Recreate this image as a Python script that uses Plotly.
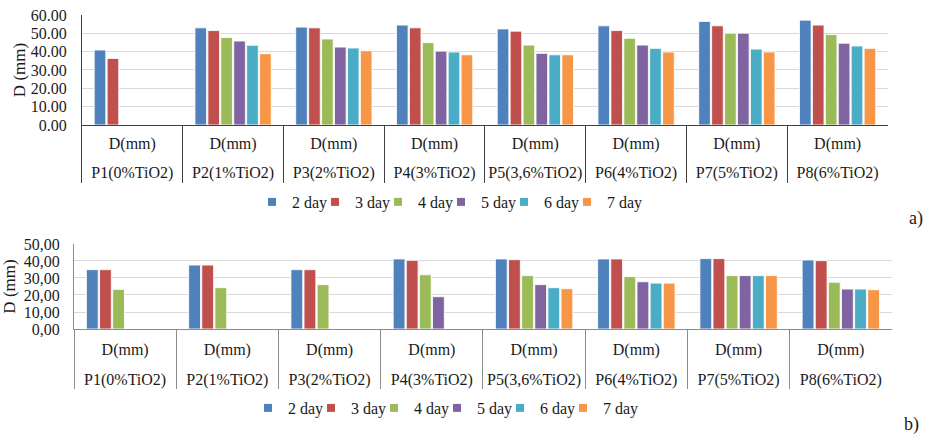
import plotly.graph_objects as go

groups = ["P1(0%TiO2)", "P2(1%TiO2)", "P3(2%TiO2)", "P4(3%TiO2)",
          "P5(3,6%TiO2)", "P6(4%TiO2)", "P7(5%TiO2)", "P8(6%TiO2)"]
measure = ["D(mm)"] * 8
days = ["2 day", "3 day", "4 day", "5 day", "6 day", "7 day"]
colors = ["#4F81BD", "#C0504D", "#9BBB59", "#8064A2", "#4BACC6", "#F79646"]

# chart a)
a_2day = [40.9, 53.0, 53.4, 54.5, 52.4, 54.1, 56.5, 57.2]
a_3day = [36.3, 51.5, 53.0, 53.0, 51.2, 51.5, 54.1, 54.5]
a_4day = [None, 47.7, 46.9, 44.9, 43.6, 47.3, 50.1, 49.3]
a_5day = [None, 45.8, 42.5, 40.3, 39.1, 43.6, 50.1, 44.6]
a_6day = [None, 43.5, 42.0, 39.8, 38.3, 41.8, 41.4, 43.1]
a_7day = [None, 38.9, 40.5, 38.3, 38.3, 39.8, 39.8, 41.8]

# chart b)
b_2day = [34.9, 37.6, 34.9, 41.2, 41.2, 41.2, 41.4, 40.6]
b_3day = [34.9, 37.6, 34.9, 40.4, 40.8, 41.2, 41.4, 40.2]
b_4day = [23.3, 24.3, 26.1, 31.9, 31.4, 30.8, 31.4, 27.5]
b_5day = [None, None, None, 19.0, 26.1, 27.8, 31.4, 23.5]
b_6day = [None, None, None, None, 24.3, 27.0, 31.4, 23.5]
b_7day = [None, None, None, None, 23.7, 27.0, 31.4, 23.1]

a_tickvals = [0, 10, 20, 30, 40, 50, 60]
a_ticktext = ["0.00", "10.00", "20.00", "30.00", "40.00", "50.00", "60.00"]
b_tickvals = [0, 10, 20, 30, 40, 50]
b_ticktext = ["0,00", "10,00", "20,00", "30,00", "40,00", "50,00"]

series_a = [a_2day, a_3day, a_4day, a_5day, a_6day, a_7day]
series_b = [b_2day, b_3day, b_4day, b_5day, b_6day, b_7day]

FONT = "'Liberation Serif', 'Times New Roman', Times, serif"
TXT = "#1a1a1a"
AXC_A = "#404040"
AXC_B = "#8C8C8C"

fig = go.Figure()

for name, col, ya, yb in zip(days, colors, series_a, series_b):
    fig.add_trace(go.Bar(x=groups, y=ya, name=name, marker_color=col,
                         marker_line=dict(color="rgba(255,255,255,0.85)", width=1),
                         xaxis="x", yaxis="y", showlegend=False))
    fig.add_trace(go.Bar(x=groups, y=yb, name=name, marker_color=col,
                         marker_line=dict(color="rgba(255,255,255,0.85)", width=1),
                         xaxis="x2", yaxis="y2", showlegend=False))

# legend entries (placed on the label axes, no visible points)
for i, (name, col) in enumerate(zip(days, colors)):
    for lg, xa, ya in (("legend", "x3", "y"), ("legend2", "x4", "y2")):
        extra = {"legendwidth": 45} if i == len(days) - 1 else {}
        fig.add_trace(go.Scatter(x=groups, y=[None] * len(groups), name=name,
                                 mode="markers",
                                 marker=dict(symbol="square", size=8, color=col),
                                 xaxis=xa, yaxis=ya, legend=lg, showlegend=True,
                                 **extra))

RANGE_X = [-0.5, len(groups) - 0.5]

def inner_axis(domain, anchor, standoff, divlen, axc):
    return dict(domain=domain, anchor=anchor, type="category",
                categoryorder="array", categoryarray=groups, range=RANGE_X,
                tickvals=groups, ticktext=measure,
                showline=True, linecolor=axc, linewidth=1,
                ticks="outside", tickson="boundaries", ticklen=divlen,
                tickcolor=axc, tickwidth=1, ticklabelstandoff=standoff,
                tickfont=dict(family=FONT, size=16, color=TXT),
                showgrid=False, automargin=False, fixedrange=True)

def outer_axis(over, anchor, standoff):
    return dict(overlaying=over, anchor=anchor, type="category",
                categoryorder="array", categoryarray=groups, range=RANGE_X,
                tickvals=groups, ticktext=groups, side="bottom",
                showline=False, ticks="", ticklabelstandoff=standoff,
                tickfont=dict(family=FONT, size=16, color=TXT),
                showgrid=False, zeroline=False, automargin=False, fixedrange=True)

def y_axis(domain, anchor, rng, tv, tt, axc, lbl_standoff, title_standoff):
    return dict(domain=domain, anchor=anchor, range=rng, tickvals=tv, ticktext=tt,
                title=dict(text="D (mm)", standoff=title_standoff,
                           font=dict(family=FONT, size=17, color=TXT)),
                showline=True, linecolor=axc, linewidth=1, ticks="",
                ticklabelstandoff=lbl_standoff,
                gridcolor="#D9D9D9", gridwidth=1, zeroline=False,
                tickfont=dict(family=FONT, size=16, color=TXT), automargin=False,
                fixedrange=True)

legend_common = dict(orientation="h", font=dict(family=FONT, size=16, color=TXT),
                     entrywidth=18, entrywidthmode="pixels", bgcolor="rgba(0,0,0,0)",
                     yanchor="middle", xanchor="left", itemclick=False)

fig.update_layout(
    width=925, height=436, margin=dict(l=0, r=0, t=0, b=0),
    paper_bgcolor="white", plot_bgcolor="white",
    barmode="group", bargap=0.23, bargroupgap=0.1,
    font=dict(family=FONT, size=16, color=TXT),
    xaxis=inner_axis([0.0886, 0.96], "y", 4, 57, AXC_A),
    xaxis3=outer_axis("x", "y", 36),
    yaxis=y_axis([0.7133, 0.9656], "x", [0, 60], a_tickvals, a_ticktext, AXC_A, 11, 0),
    xaxis2=inner_axis([0.08, 0.9643], "y2", 6, 59, AXC_B),
    xaxis4=outer_axis("x2", "y2", 39),
    yaxis2=y_axis([0.2454, 0.4404], "x2", [0, 50], b_tickvals, b_ticktext, AXC_B, 10, 3),
    legend=dict(x=252 / 925, y=(436 - 202) / 436, **legend_common),
    legend2=dict(x=248 / 925, y=(436 - 408) / 436, **legend_common),
    annotations=[
        dict(text="a)", x=925 / 925, y=(436 - 219) / 436, xref="paper", yref="paper",
             xanchor="right", yanchor="middle", showarrow=False,
             font=dict(family=FONT, size=18, color=TXT)),
        dict(text="b)", x=921 / 925, y=(436 - 424) / 436, xref="paper", yref="paper",
             xanchor="right", yanchor="middle", showarrow=False,
             font=dict(family=FONT, size=18, color=TXT)),
    ],
)

fig.write_html("out.html")
